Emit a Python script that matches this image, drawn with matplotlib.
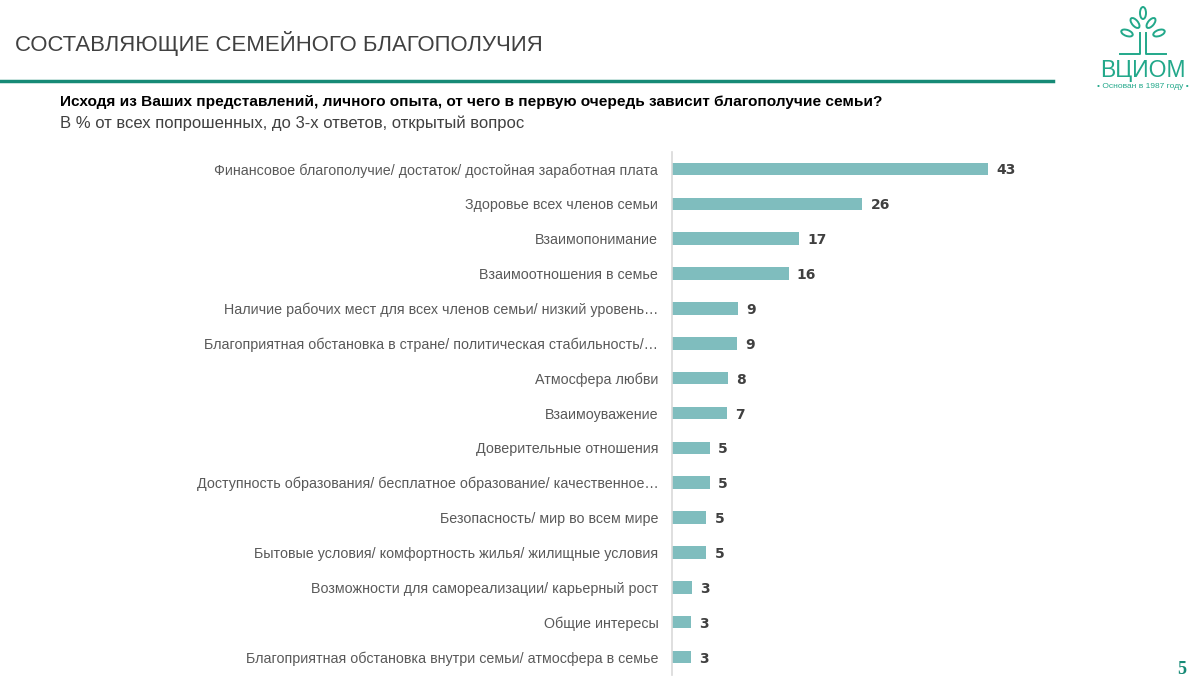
import matplotlib.pyplot as plt
from matplotlib.patches import Ellipse
import numpy as np

plt.rcParams['font.family'] = ['Liberation Sans', 'DejaVu Sans']

categories = [
    "Финансовое благополучие/ достаток/ достойная заработная плата",
    "Здоровье всех членов семьи",
    "Взаимопонимание",
    "Взаимоотношения в семье",
    "Наличие рабочих мест для всех членов семьи/ низкий уровень…",
    "Благоприятная обстановка в стране/ политическая стабильность/…",
    "Атмосфера любви",
    "Взаимоуважение",
    "Доверительные отношения",
    "Доступность образования/ бесплатное образование/ качественное…",
    "Безопасность/ мир во всем мире",
    "Бытовые условия/ комфортность жилья/ жилищные условия",
    "Возможности для самореализации/ карьерный рост",
    "Общие интересы",
    "Благоприятная обстановка внутри семьи/ атмосфера в семье",
]
values = [43, 25.9, 17.3, 15.9, 9.0, 8.9, 7.65, 7.5, 5.2, 5.2, 4.7, 4.7, 2.8, 2.6, 2.6]
value_labels = ["43", "26", "17", "16", "9", "9", "8", "7", "5", "5", "5", "5", "3", "3", "3"]

W, H = 1200, 682
fig = plt.figure(figsize=(12, 6.82), dpi=100)

# chart axes in pixel coords
left, right, top, bottom = 671.5, 1100, 151.5, 674.5
ax = fig.add_axes([left / W, 1 - bottom / H, (right - left) / W, (bottom - top) / H])
y = np.arange(len(categories))
ax.barh(y, values, height=0.36, color='#7fbdbe')
ax.set_ylim(len(categories) - 0.5, -0.5)
ax.set_xlim(0, 43 * (right - left) / (988 - left))
ax.set_yticks(y)
ax.set_yticklabels(categories, fontsize=10.3, color='#595959')
ax.tick_params(axis='y', length=0, pad=9.5)
ax.set_xticks([])
for s in ['top', 'right', 'bottom']:
    ax.spines[s].set_visible(False)
ax.spines['left'].set_color('#d9d9d9')
ax.spines['left'].set_linewidth(1.2)
for yi, v, lab in zip(y, values, value_labels):
    ax.annotate(lab, (v, yi), xytext=(6, 0), textcoords='offset points',
                va='center_baseline', ha='left', fontsize=10, fontweight='bold',
                color='#404040', family=['DejaVu Sans'])

# header
fig.text(15 / W, 1 - 43 / H, "СОСТАВЛЯЮЩИЕ СЕМЕЙНОГО БЛАГОПОЛУЧИЯ", fontsize=15.9,
         color='#404040', va='center', ha='left')
fig.add_artist(plt.Line2D([0, 1053 / W], [1 - 81 / H, 1 - 81 / H], color='#168a76', lw=2.5))
fig.text(60 / W, 1 - 102 / H,
         "Исходя из Ваших представлений, личного опыта, от чего в первую очередь зависит благополучие семьи?",
         fontsize=11.1, fontweight='bold', color='#000000', va='center', ha='left')
fig.text(60 / W, 1 - 123 / H, "В % от всех попрошенных, до 3-х ответов, открытый вопрос",
         fontsize=11.95, color='#404040', va='center', ha='left')

# logo
logo_c = '#22a88a'
lx = fig.add_axes([1085 / W, 1 - 95 / H, 115 / W, 92 / H])
lx.set_xlim(0, 115)
lx.set_ylim(92, 0)
lx.axis('off')
for cx, cy, ang in [(58, 10, 90), (50, 20, 50), (66, 20, 130), (42, 30, 20), (74, 30, 160)]:
    lx.add_patch(Ellipse((cx, cy), 12, 6, angle=ang, fill=False, ec=logo_c, lw=1.4))
lx.plot([55, 55, 35], [30, 51, 51], color=logo_c, lw=1.4)
lx.plot([61, 61, 81], [30, 51, 51], color=logo_c, lw=1.4)
lx.text(58, 68, "ВЦИОМ", fontsize=16.5, color=logo_c, ha='center', va='center')
lx.text(58, 84, "• Основан в 1987 году •", fontsize=6, color=logo_c, ha='center', va='center')

fig.text(1182 / W, 1 - 670 / H, "5", fontsize=13, fontweight='bold', color='#168a76',
         family=['Liberation Serif'], ha='center', va='center')

fig.savefig('out.png', dpi=100)
